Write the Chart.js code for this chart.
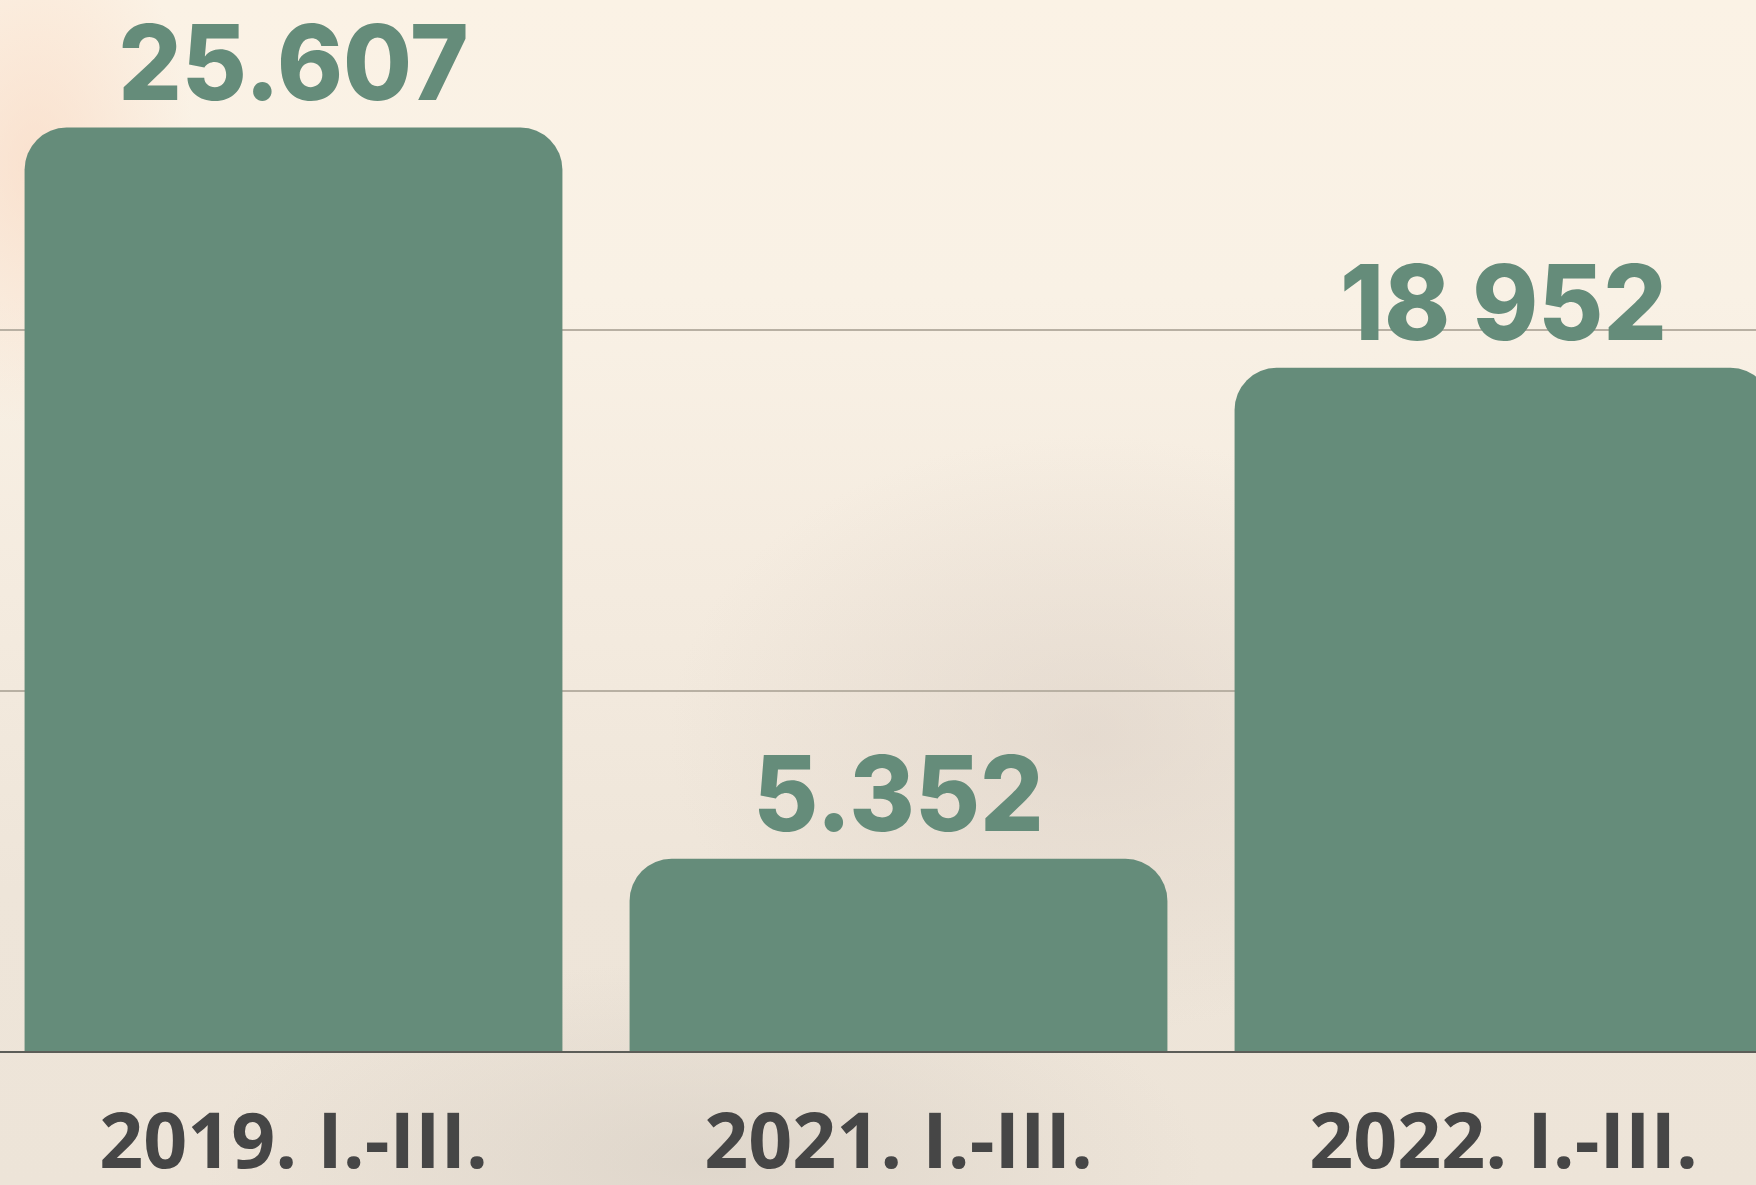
<!DOCTYPE html>
<html>
<head>
<meta charset="utf-8">
<script src="https://cdn.jsdelivr.net/npm/chart.js@4/dist/chart.umd.min.js"></script>
<style>
  html, body { margin: 0; padding: 0; width: 1756px; height: 1185px; overflow: hidden; }
  body {
    position: relative;
    background:
      radial-gradient(ellipse 160px 260px at 2% 14%, rgba(250, 212, 188, 0.55), rgba(250, 212, 188, 0) 100%),
      radial-gradient(ellipse 420px 300px at 62% 62%, rgba(214, 202, 192, 0.45), rgba(214, 202, 192, 0) 100%),
      radial-gradient(ellipse 500px 200px at 40% 98%, rgba(206, 198, 188, 0.45), rgba(206, 198, 188, 0) 100%),
      linear-gradient(180deg, #fbf2e5 0%, #f9f1e5 25%, #f4ebdf 50%, #eee5d9 75%, #ede4d8 100%);
  }
  /* chart is a bit bigger than the page and cropped, like the original */
  #wrap { position: absolute; left: -9px; top: -31px; width: 1815px; height: 1216px; }
</style>
</head>
<body>
<div id="wrap"><canvas id="visitorChart"></canvas></div>
<script>
const periods = ['2019. I.-III.', '2021. I.-III.', '2022. I.-III.'];
const visitors = [25607, 5352, 18952];
const valueLabels = ['25.607', '5.352', '18 952'];

const barGreen = '#658c7a';

// draws the big numbers above each bar
const valueLabelPlugin = {
    id: 'valueLabels',
    afterDatasetsDraw(chart) {
        const ctx = chart.ctx;
        chart.getDatasetMeta(0).data.forEach((bar, i) => {
            ctx.save();
            ctx.translate(bar.x, bar.y - 28);
            ctx.scale(0.96, 1);
            ctx.font = '800 104px Inter';
            ctx.fillStyle = barGreen;
            ctx.textAlign = 'center';
            ctx.textBaseline = 'alphabetic';
            ctx.fillText(valueLabels[i], 0, 0);
            ctx.restore();
        });
    }
};

const ctx = document.getElementById('visitorChart').getContext('2d');

new Chart(ctx, {
    type: 'bar',
    data: {
        labels: periods,
        datasets: [{
            data: visitors,
            backgroundColor: barGreen,
            borderRadius: 42,
            borderSkipped: 'start',
            barPercentage: 0.889,
            categoryPercentage: 1
        }]
    },
    options: {
        responsive: true,
        maintainAspectRatio: false,
        animation: false,
        layout: { padding: 0 },
        plugins: {
            legend: { display: false },
            tooltip: { enabled: false }
        },
        scales: {
            x: {
                grid: { display: false },
                border: { display: true, color: '#5c5d58', width: 2, z: 1 },
                ticks: {
                    color: '#464646',
                    padding: 40,
                    font: { family: 'Open Sans', weight: 'bold', size: 77 }
                },
                afterFit: scale => { scale.height = 133; }
            },
            y: {
                min: 0,
                max: 30000,
                border: { display: false },
                grid: {
                    drawTicks: false,
                    lineWidth: 2,
                    color: c => c.tick.value === 0 ? 'rgba(0,0,0,0)' : '#b8b0a3'
                },
                ticks: { display: false, stepSize: 10000 }
            }
        }
    },
    plugins: [valueLabelPlugin]
});
</script>
</body>
</html>
